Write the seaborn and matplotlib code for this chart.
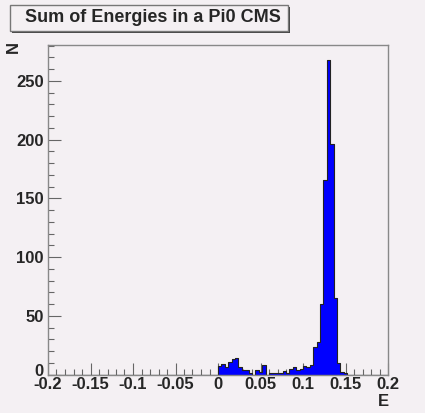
import numpy as np
import pandas as pd
import matplotlib
matplotlib.use("Agg")
import matplotlib.pyplot as plt
from matplotlib.patches import Rectangle
from matplotlib.ticker import MultipleLocator
from matplotlib.transforms import ScaledTranslation
import seaborn as sns

# ==========================================
# Data
# ==========================================

x_min, x_max = -0.2, 0.2
n_bins = 100
first_filled_E = 0.0  # first bin with entries starts at E = 0

# counts for consecutive 0.004-wide bins starting at E = 0
counts_from_zero = [7, 9, 6, 11, 13, 14, 6, 4, 4, 1,
                    0, 4, 2, 8, 0, 1, 1, 1, 1, 3,
                    1, 5, 6, 4, 5, 7, 6, 8, 23, 28,
                    60, 166, 268, 196, 65, 10, 2, 1, 0, 0]

x_ticks = [-0.2, -0.15, -0.1, -0.05, 0, 0.05, 0.1, 0.15, 0.2]
x_tick_labels = ["-0.2", "-0.15", "-0.1", "-0.05", "0", "0.05", "0.1", "0.15", "0.2"]
y_ticks = [0, 50, 100, 150, 200, 250]

title_text = "Sum of Energies in a Pi0 CMS"
x_title = "E"
y_title = "N"

# ==========================================
# Build histogram table
# ==========================================

edges = np.linspace(x_min, x_max, n_bins + 1)
centers = (edges[:-1] + edges[1:]) / 2
weights = np.zeros(n_bins)
start = int(round((first_filled_E - x_min) / (edges[1] - edges[0])))
weights[start:start + len(counts_from_zero)] = counts_from_zero
df = pd.DataFrame({"E": centers, "N": weights})

# ==========================================
# Plot
# ==========================================

bg = "#f4f0f3"
sns.set_style("white")
plt.rcParams["font.family"] = ["Liberation Sans", "DejaVu Sans"]
plt.rcParams["font.weight"] = "bold"

W, H = 425, 413
fig = plt.figure(figsize=(W / 100, H / 100), dpi=100, facecolor=bg)
ax = fig.add_axes([48 / W, 1 - 374.5 / H, 340 / W, (374.5 - 44.5) / H])
ax.set_facecolor(bg)

sns.histplot(
    data=df,
    x="E",
    weights="N",
    bins=n_bins,
    binrange=(x_min, x_max),
    element="step",
    fill=True,
    color="#0000ff",
    alpha=1,
    edgecolor="#222222",
    linewidth=0.8,
    ax=ax,
)

ax.set_xlim(x_min, x_max)
ax.set_ylim(0, 281)
ax.set_xticks(x_ticks)
ax.set_xticklabels(x_tick_labels)
ax.set_yticks(y_ticks)
ax.xaxis.set_minor_locator(MultipleLocator(0.01))
ax.yaxis.set_minor_locator(MultipleLocator(10))

ax.tick_params(axis="both", which="major", direction="in", length=9, width=0.8,
               color="#666666", labelsize=12)
ax.tick_params(axis="x", which="major", pad=1.5)
ax.tick_params(axis="y", which="major", pad=3)
ax.tick_params(axis="both", which="minor", direction="in", length=4.5, width=0.8,
               color="#666666")
ax.tick_params(axis="x", which="both", bottom=True, top=False)
ax.tick_params(axis="y", which="both", left=True, right=False)
for lbl in ax.get_xticklabels() + ax.get_yticklabels():
    lbl.set_fontweight("bold")

# lift the "0" on the N axis a little, as in the reference
zero_lbl = ax.get_yticklabels()[0]
zero_lbl.set_transform(zero_lbl.get_transform()
                       + ScaledTranslation(0, 3 / 72, fig.dpi_scale_trans))

for side in ["top", "right", "left", "bottom"]:
    ax.spines[side].set_visible(True)
    ax.spines[side].set_color("#888888")
    ax.spines[side].set_linewidth(1)

ax.set_xlabel("")
ax.set_ylabel("")
fig.text(383 / W, 1 - 402 / H, x_title, ha="center", va="center",
         fontsize=12, fontweight="bold")
fig.text(13 / W, 1 - 47 / H, y_title, ha="center", va="center",
         fontsize=12, fontweight="bold", rotation=90)

# title pave with a small shadow
fig.patches.append(Rectangle((11.5 / W, 1 - 33 / H), 278 / W, 26 / H,
                             transform=fig.transFigure, facecolor="#444444",
                             edgecolor="none"))
fig.patches.append(Rectangle((9.5 / W, 1 - 31 / H), 278 / W, 26 / H,
                             transform=fig.transFigure, facecolor=bg,
                             edgecolor="#777777", linewidth=1))
fig.text(153 / W, 1 - 18 / H, title_text, ha="center", va="center",
         fontsize=13, fontweight="bold")

fig.savefig("out.png", dpi=100, facecolor=bg)
